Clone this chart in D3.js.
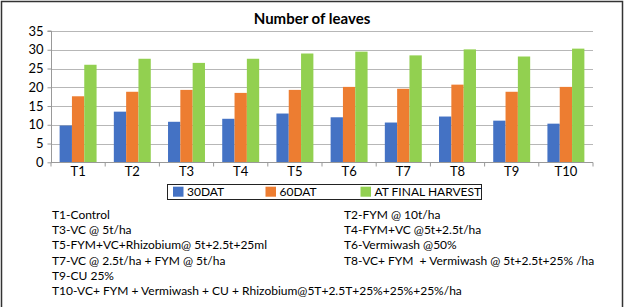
<!DOCTYPE html>
<html><head><meta charset="utf-8">
<script src="https://cdnjs.cloudflare.com/ajax/libs/d3/7.8.5/d3.min.js"></script>
<style>body{margin:0;background:#fff}svg{display:block}</style>
</head><body>
<script>
const categories = ["T1","T2","T3","T4","T5","T6","T7","T8","T9","T10"];
const seriesNames = ["30DAT","60DAT","AT FINAL HARVEST"];
const dat30 = [9.8,13.5,10.8,11.6,13.0,12.0,10.6,12.2,11.1,10.3];
const dat60 = [17.6,18.8,19.3,18.5,19.3,20.1,19.6,20.7,18.8,20.1];
const finalHarvest = [26.0,27.6,26.5,27.6,29.0,29.5,28.5,30.1,28.2,30.3];
const yTicks = [0,5,10,15,20,25,30,35];
const colors = ["#4472C4","#ED7D31","#92D050"];
const chartTitle = "Number of leaves";
const notesLeft = ["T1-Control","T3-VC @ 5t/ha","T5-FYM+VC+Rhizobium@ 5t+2.5t+25ml","T7-VC @ 2.5t/ha + FYM @ 5t/ha","T9-CU 25%","T10-VC+ FYM + Vermiwash + CU + Rhizobium@5T+2.5T+25%+25%+25%/ha"];
const notesRight = ["T2-FYM @ 10t/ha","T4-FYM+VC @5t+2.5t/ha","T6-Vermiwash @50%","T8-VC+ FYM  + Vermiwash @ 5t+2.5t+25% /ha"];

(function(){
const W = 626, H = 307;
const font = "Lato, 'Open Sans', sans-serif";
const svg = d3.select("body").append("svg").attr("width", W).attr("height", H);
svg.append("rect").attr("x",0).attr("y",0).attr("width",W).attr("height",H).attr("fill","#fff");
svg.append("rect").attr("x",1.5).attr("y",1.5).attr("width",621).attr("height",310)
  .attr("fill","none").attr("stroke","#333").attr("stroke-width",1.5);

const pL = 51, pR = 593, pT = 31, pB = 162.3;
const x0 = d3.scaleBand().domain(categories).range([pL, pR]).padding(0);
const x1 = d3.scaleBand().domain(seriesNames).range([0, x0.bandwidth()]).paddingInner(0).paddingOuter(0.7);
const y = d3.scaleLinear().domain([0,35]).range([pB, pT]);

svg.append("g").selectAll("line").data(yTicks.filter(d=>d>0)).join("line")
  .attr("x1", pL).attr("x2", pR).attr("y1", d=>Math.round(y(d))+0.5).attr("y2", d=>Math.round(y(d))+0.5)
  .attr("stroke", "#b7b7b7").attr("stroke-width", 1.2);

const data = [dat30, dat60, finalHarvest];
const g = svg.append("g");
categories.forEach((c, i) => {
  seriesNames.forEach((s, j) => {
    g.append("rect")
      .attr("x", x0(c) + x1(s))
      .attr("width", x1.bandwidth())
      .attr("y", y(data[j][i]))
      .attr("height", y(0) - y(data[j][i]))
      .attr("fill", colors[j]);
  });
});

const yAxis = d3.axisLeft(y).tickValues(yTicks).tickSize(4).tickPadding(4).tickFormat(d3.format("d"));
const ya = svg.append("g").attr("transform", `translate(${pL+0.5},0)`).call(yAxis);
ya.select(".domain").attr("stroke","#999").attr("d", `M-4,${y(35)}H0V${y(0)}`);
ya.selectAll(".tick line").attr("stroke","#999");
ya.selectAll("text").attr("font-family", font).attr("font-size", 13).attr("fill","#000");

const xa = svg.append("g").attr("transform", `translate(0,${Math.round(pB)+0.5})`);
xa.append("line").attr("x1", pL).attr("x2", pR).attr("stroke", "#999");
const bounds = categories.map(c => x0(c)).concat([pR]);
xa.selectAll("line.t").data(bounds).join("line").attr("class","t")
  .attr("x1", d=>d).attr("x2", d=>d).attr("y1",0).attr("y2",4).attr("stroke","#999");
xa.selectAll("text").data(categories).join("text")
  .attr("x", d => x0(d) + x0.bandwidth()/2).attr("y", 13)
  .attr("text-anchor","middle").attr("font-family", font).attr("font-size", 13).attr("fill","#000")
  .text(d=>d);

svg.append("text").attr("x", 312).attr("y", 24).attr("text-anchor","middle")
  .attr("font-family", font).attr("font-weight","bold").attr("font-size", 15).attr("fill","#000").text(chartTitle);

const lg = svg.append("g");
lg.append("rect").attr("x",167.5).attr("y",184.5).attr("width",314).attr("height",15)
  .attr("fill","#fff").attr("stroke","#222").attr("stroke-width",1);
const legX = [173, 265.5, 360.5];
seriesNames.forEach((s, j) => {
  lg.append("rect").attr("x", legX[j]).attr("y", 186.7).attr("width", 10.5).attr("height", 10).attr("fill", colors[j]);
  lg.append("text").attr("x", legX[j] + 14).attr("y", 196.3).attr("font-family", font).attr("font-size", 12)
    .attr("fill","#000").text(s);
});

const rowY = [218.5, 233.8, 249.2, 264.5, 279.8, 295.2];
svg.append("g").selectAll("text").data(notesLeft).join("text")
  .attr("x", 52).attr("y", (d,i)=>rowY[i]).attr("font-family", font).attr("font-size", 12)
  .attr("fill","#000").style("white-space","pre").text(d=>d);
svg.append("g").selectAll("text").data(notesRight).join("text")
  .attr("x", 344).attr("y", (d,i)=>rowY[i]).attr("font-family", font).attr("font-size", 12)
  .attr("fill","#000").style("white-space","pre").text(d=>d);
})();
</script>
</body></html>
